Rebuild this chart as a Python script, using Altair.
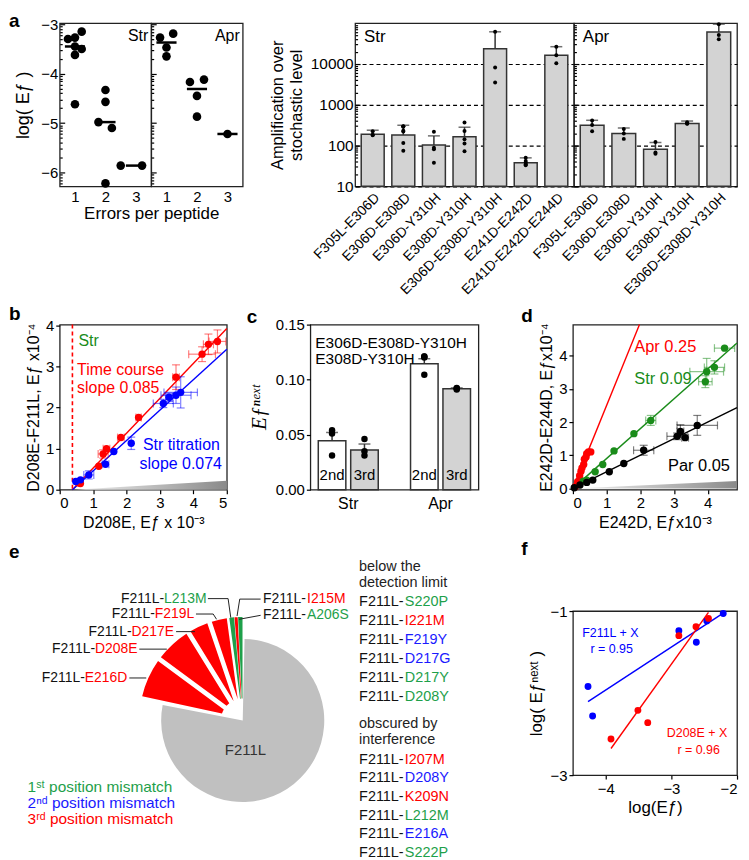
import altair as alt
import numpy as np
import pandas as pd

FONT = "Liberation Sans"
RED = "#ff0000"
BLUE = "#0000ff"
GREEN = "#1a8c1a"
GREEN_E = "#1ea04a"
BAR_FILL = "#d3d3d3"
EDGE = "#333333"

# ============================ DATA ============================
# --- panel a, left: log(Ef) per number of errors
a_str_err = [1, 1, 1, 1, 1, 1, 1, 2, 2, 2, 2, 2, 3, 3]
a_str_logef = [-3.30, -3.27, -3.15, -3.45, -3.50, -3.62, -4.62, -4.98, -4.33, -4.57, -5.10, -6.22, -5.86, -5.86]
a_str_jitter = [-0.23, 0.0, 0.22, 0.0, 0.22, 0.0, 0.0, -0.23, 0.0, 0.0, 0.21, 0.0, -0.5, 0.2]
a_apr_err = [1, 1, 1, 1, 2, 2, 2, 2, 3]
a_apr_logef = [-3.27, -3.19, -3.47, -3.65, -4.17, -4.12, -4.45, -4.87, -5.22]
a_apr_jitter = [-0.21, 0.22, 0.0, 0.0, -0.23, 0.23, 0.0, 0.0, 0.0]
a_left_ticks = [-3, -4, -5, -6]

# --- panel a, right: amplification over stochastic level
amp_str_cats = ["F305L-E306D", "E306D-E308D", "E306D-Y310H", "E308D-Y310H",
                "E306D-E308D-Y310H", "E241D-E242D", "E241D-E242D-E244D"]
amp_str_mean = [190, 183, 104, 164, 23800, 38, 16500]
amp_str_top = [238, 315, 173, 282, 61700, 50, 26600]
amp_str_pts = [[225, 185, 180], [300, 295, 290, 230, 220, 115, 75], [217, 89, 81, 38],
               [367, 229, 143, 112, 73], [61700, 8250, 3530], [50, 42, 38, 35, 33],
               [26600, 16500, 10400]]
amp_apr_cats = ["F305L-E306D", "E306D-E308D", "E306D-Y310H", "E308D-Y310H", "E306D-E308D-Y310H"]
amp_apr_mean = [315, 197, 81, 350, 60800]
amp_apr_top = [417, 270, 119, 400, 95000]
amp_apr_pts = [[410, 320, 224], [255, 197, 146], [122, 68, 63], [375, 350, 345], [95000, 51400, 40700]]
amp_ticks = [10, 100, 1000, 10000]

# --- panel b
b_time_x = [0.55, 0.62, 1.17, 1.30, 1.40, 1.83, 2.36, 3.48, 4.26, 4.45, 4.72]
b_time_y = [0.17, 0.15, 0.57, 0.87, 1.00, 1.27, 1.76, 2.74, 3.30, 3.54, 3.61]
b_time_xerr = [0.04, 0.04, 0.06, 0.15, 0.10, 0.10, 0.08, 0.10, 0.40, 0.15, 0.25]
b_time_yerr = [0.03, 0.03, 0.04, 0.10, 0.06, 0.04, 0.04, 0.30, 0.18, 0.25, 0.28]
b_titr_x = [0.48, 0.62, 0.87, 1.37, 1.62, 2.14, 3.10, 3.27, 3.48, 3.62]
b_titr_y = [0.20, 0.24, 0.36, 0.62, 0.93, 1.13, 2.10, 2.25, 2.30, 2.37]
b_titr_xerr = [0.04, 0.05, 0.15, 0.10, 0.06, 0.06, 0.30, 0.10, 0.45, 0.50]
b_titr_yerr = [0.03, 0.03, 0.10, 0.05, 0.05, 0.15, 0.10, 0.10, 0.20, 0.38]
b_slopes = [0.85, 0.74]          # plotted units (0.085, 0.074 in raw units)
b_stochastic = 0.38
b_wedge_x = [0.4, 5.0]
b_wedge_y = [0.0, 0.22]

# --- panel c
c_group = ["Str", "Str", "Apr", "Apr"]
c_gen = ["2nd", "3rd", "2nd", "3rd"]
c_mean = [0.0445, 0.036, 0.1145, 0.0918]
c_top = [0.052, 0.0415, 0.119, 0.0925]
c_pts = [[0.054, 0.051, 0.031], [0.046, 0.035, 0.031], [0.121, 0.120, 0.121, 0.1045], [0.0925, 0.092, 0.091]]

# --- panel d
d_apr_x = [0.07, 0.14, 0.20, 0.24, 0.27, 0.32, 0.34, 0.39, 0.41, 0.46, 0.53]
d_apr_y = [0.05, 0.20, 0.38, 0.52, 0.62, 0.72, 0.88, 0.95, 1.05, 1.10, 1.10]
d_apr_xerr = [0.02, 0.02, 0.02, 0.03, 0.03, 0.03, 0.03, 0.03, 0.05, 0.05, 0.05]
d_apr_yerr = [0.02, 0.03, 0.03, 0.03, 0.03, 0.05, 0.05, 0.05, 0.05, 0.05, 0.05]
d_str_x = [0.31, 0.41, 0.66, 0.885, 1.22, 1.81, 2.31, 3.93, 3.97, 4.20, 4.50]
d_str_y = [0.22, 0.25, 0.50, 0.72, 1.13, 1.65, 2.05, 3.22, 3.52, 3.65, 4.23]
d_str_xerr = [0.03, 0.03, 0.05, 0.05, 0.05, 0.05, 0.15, 0.20, 0.50, 0.30, 0.30]
d_str_yerr = [0.02, 0.02, 0.03, 0.05, 0.05, 0.05, 0.15, 0.18, 0.40, 0.20, 0.05]
d_par_x = [0.04, 0.21, 0.41, 0.59, 1.08, 1.51, 2.10, 3.09, 3.19, 3.33, 3.69]
d_par_y = [0.02, 0.10, 0.18, 0.25, 0.50, 0.75, 1.15, 1.57, 1.72, 1.53, 1.90]
d_par_xerr = [0.02, 0.02, 0.02, 0.05, 0.05, 0.05, 0.30, 0.30, 0.10, 0.10, 0.60]
d_par_yerr = [0.01, 0.01, 0.02, 0.03, 0.03, 0.03, 0.15, 0.10, 0.20, 0.05, 0.30]
d_slopes = [2.5, 0.9, 0.5]       # plotted units (0.25, 0.09, 0.05 raw)
d_wedge_x = [0.05, 4.87]
d_wedge_y = [0.0, 0.22]

# --- panel e
pie_labels = ["F211L", "F211L-E216D", "F211L-D208E", "F211L-D217E", "F211L-F219L",
              "F211L-L213M", "F211L-I215M", "F211L-A206S"]
pie_pct = [78.4, 6.7, 6.1, 3.6, 3.1, 0.8, 0.55, 0.75]
pie_pos = ["none", "3rd", "3rd", "3rd", "3rd", "1st", "3rd", "1st"]
below_mut = ["S220P", "I221M", "F219Y", "D217G", "D217Y", "D208Y"]
below_pos = ["1st", "3rd", "2nd", "2nd", "1st", "1st"]
obsc_mut = ["I207M", "D208Y", "K209N", "L212M", "E216A", "S222P"]
obsc_pos = ["3rd", "2nd", "3rd", "1st", "2nd", "1st"]

# --- panel f
f_blue_x = [-4.27, -4.20, -2.886, -2.62, -2.46, -2.21]
f_blue_y = [-1.92, -2.28, -1.24, -1.38, -1.12, -1.03]
f_red_x = [-3.92, -3.51, -3.36, -2.886, -2.625, -2.435]
f_red_y = [-2.56, -2.21, -2.36, -1.30, -1.19, -1.09]

POS_COLOR = {"none": "#c0c0c0", "1st": GREEN_E, "2nd": "#1a1aff", "3rd": RED}

# ============================ HELPERS ============================
ARIAL_W = {"0": 556, "1": 556, "2": 556, "3": 556, "4": 556, "5": 556, "6": 556, "7": 556, "8": 556,
           "9": 556, "-": 333, " ": 278, "F": 611, "L": 556, "E": 667, "D": 722, "M": 833, "I": 278,
           "S": 667, "A": 667, "P": 667, "Y": 667, "G": 778, "K": 667, "N": 722}


def tw(s, size):
    return sum(ARIAL_W.get(ch, 556) for ch in s) * size / 1000.0


def letter(ch, x, y, baseline="middle"):
    return alt.Chart(pd.DataFrame({"t": [ch]})).mark_text(
        fontSize=19, fontWeight="bold", align="left", baseline=baseline, color="black"
    ).encode(x=alt.value(x), y=alt.value(y), text="t:N")


def guard(top, bottom):
    # invisible rule fixing the vertical extent of a row (layout only)
    return alt.Chart(pd.DataFrame({"z": [0]})).mark_rule(color="transparent", strokeWidth=1).encode(
        x=alt.value(-20), y=alt.value(top), y2=alt.value(bottom))


def spacer(w, h):
    return alt.Chart(pd.DataFrame({"z": [0]})).mark_point(opacity=0).encode(
        x=alt.X("z:Q", axis=None), y=alt.Y("z:Q", axis=None)
    ).properties(width=w, height=h, view=alt.ViewBackground(stroke="transparent"))


# ============================ PANEL a (left) ============================
a_left_minor = [m + np.log10(k / 10) for m in a_left_ticks for k in range(2, 10)]
a_left_minor = [v for v in a_left_minor if v >= -6.28]


def a_left_panel(label, err, vals, jit, first):
    df = pd.DataFrame({"err": err, "logef": vals, "jit": jit})
    ysc = alt.Scale(domain=[-6.28, -2.98], nice=False, zero=False)
    xsc = alt.Scale(domain=[0.5, 3.5], nice=False, zero=False)
    xax = alt.Axis(values=[1, 2, 3], format="d", ticks=False, labelPadding=3, labelFontSize=15,
                   title="Errors per peptide" if first else "", titleX=92, titleFontSize=17,
                   titlePadding=1)
    yax = alt.Axis(values=a_left_ticks, format="d", orient="left", tickSize={"expr": "-5"},
                   labelPadding=7, labels=first, title="log( Eƒ )" if first else "",
                   titleFontSize=18, titlePadding=8)
    base = alt.Chart(df)
    pts = base.transform_calculate(xp="datum.err + datum.jit").mark_circle(
        size=75, color="black", opacity=1).encode(
        x=alt.X("xp:Q", scale=xsc, axis=xax), y=alt.Y("logef:Q", scale=ysc, axis=yax))
    med = base.transform_aggregate(med="median(logef)", groupby=["err"]).transform_calculate(
        x1="datum.err - 0.33", x2="datum.err + 0.33").mark_rule(color="black", strokeWidth=2.5).encode(
        x=alt.X("x1:Q", scale=xsc, axis=xax), x2="x2:Q", y=alt.Y("med:Q", scale=ysc, axis=yax))
    lab = alt.Chart(pd.DataFrame({"t": [label]})).mark_text(
        align="right", baseline="middle", fontSize=16, color="black").encode(
        x=alt.value(89), y=alt.value(13), text="t:N")
    inner = [pts, med, lab]
    if first:
        inner += [letter("a", -51, -11, baseline="top"), guard(-11, 290)]
    minor = alt.Chart(pd.DataFrame({"v": a_left_minor})).mark_point(opacity=0).encode(
        y=alt.Y("v:Q", scale=ysc, axis=alt.Axis(values=a_left_minor, labels=False, orient="left",
                                                 tickSize={"expr": "-2.5"}, title="")))
    return alt.layer(alt.layer(*inner), minor).resolve_axis(y="independent").properties(width=92, height=164)


aS = a_left_panel("Str", a_str_err, a_str_logef, a_str_jitter, True)
aA = a_left_panel("Apr", a_apr_err, a_apr_logef, a_apr_jitter, False)

# ============================ PANEL a (right) ============================
amp_minor = [k * 10 ** e for e in range(1, 5) for k in range(2, 10)]


def amp_panel(label, cats, means, tops, pts, width, first):
    bars_df = pd.DataFrame({"cat": cats, "mean": means, "top": tops})
    pts_df = pd.DataFrame([(c, v) for c, vs in zip(cats, pts) for v in vs], columns=["cat", "v"])
    xenc = dict(field="cat", type="nominal", sort=cats,
                scale=alt.Scale(paddingInner=0.25, paddingOuter=0.2),
                axis=alt.Axis(labelAngle=-45, ticks=False, title=None, labelFontSize=14, labelPadding=4))
    ysc = alt.Scale(type="log", domain=[10, 100000], nice=False)
    yax = alt.Axis(values=amp_ticks, format="d", grid=True, gridDash=[4, 3], gridColor="black",
                   gridWidth=1.2, tickSize={"expr": "-5"}, labelPadding=7, labels=first,
                   labelFontSize=15.5, orient="left",
                   title=["Amplification over", "stochastic level"] if first else "",
                   titleFontSize=16.5, titlePadding=6, titleLineHeight=19)
    bars = alt.Chart(bars_df).mark_bar(color=BAR_FILL, stroke=EDGE, strokeWidth=1.5).encode(
        x=alt.X(**xenc), y=alt.Y("mean:Q", scale=ysc, axis=yax), y2=alt.datum(10))
    err = alt.Chart(bars_df).mark_rule(color=EDGE, strokeWidth=1.5).encode(
        x=alt.X(**xenc), y=alt.Y("mean:Q", scale=ysc, axis=yax), y2="top:Q")
    cap = alt.Chart(bars_df).mark_tick(color=EDGE, thickness=1.5, size=12).encode(
        x=alt.X(**xenc), y=alt.Y("top:Q", scale=ysc, axis=yax))
    dots = alt.Chart(pts_df).mark_circle(size=16, color="black", opacity=1).encode(
        x=alt.X(**xenc), y=alt.Y("v:Q", scale=ysc, axis=yax))
    lab = alt.Chart(pd.DataFrame({"t": [label]})).mark_text(
        align="left", baseline="middle", fontSize=17, color="black").encode(
        x=alt.value(9), y=alt.value(14), text="t:N")
    minor = alt.Chart(pd.DataFrame({"v": amp_minor})).mark_point(opacity=0).encode(
        y=alt.Y("v:Q", scale=ysc, axis=alt.Axis(values=amp_minor, labels=False, orient="left",
                                                 grid=False, tickSize={"expr": "-2.5"}, title="")))
    return alt.layer(alt.layer(bars, err, cap, dots, lab), minor).resolve_axis(
        y="independent").properties(width=width, height=164)


bS = amp_panel("Str", amp_str_cats, amp_str_mean, amp_str_top, amp_str_pts, 220, True)
bA = amp_panel("Apr", amp_apr_cats, amp_apr_mean, amp_apr_top, amp_apr_pts, 164, False)


# ============================ scatter helper (b, d) ============================
def scatter_layers(df, cscale, xsc, ysc, xax, yax, psize):
    base = alt.Chart(df).transform_calculate(
        xlo="datum.x - datum.xe", xhi="datum.x + datum.xe",
        ylo="datum.y - datum.ye", yhi="datum.y + datum.ye")
    col = alt.Color("s:N", scale=cscale, legend=None)
    X = lambda f: alt.X(f, type="quantitative", scale=xsc, axis=xax)
    Y = lambda f: alt.Y(f, type="quantitative", scale=ysc, axis=yax)
    bx = base.transform_filter("datum.xe > 0.07")
    by = base.transform_filter("datum.ye > 0.07")
    layers = [
        bx.mark_rule(strokeWidth=1.2, opacity=0.5).encode(x=X("xlo"), x2="xhi:Q", y=Y("y"), color=col),
        by.mark_rule(strokeWidth=1.2, opacity=0.5).encode(x=X("x"), y=Y("ylo"), y2="yhi:Q", color=col),
        bx.mark_tick(orient="vertical", size=8, thickness=1.2, opacity=0.5).encode(x=X("xlo"), y=Y("y"), color=col),
        bx.mark_tick(orient="vertical", size=8, thickness=1.2, opacity=0.5).encode(x=X("xhi"), y=Y("y"), color=col),
        by.mark_tick(orient="horizontal", size=8, thickness=1.2, opacity=0.5).encode(x=X("x"), y=Y("ylo"), color=col),
        by.mark_tick(orient="horizontal", size=8, thickness=1.2, opacity=0.5).encode(x=X("x"), y=Y("yhi"), color=col),
        base.mark_circle(size=psize, opacity=1).encode(x=X("x"), y=Y("y"), color=col),
    ]
    return layers, X, Y


def text_layer(rows, color, size, align, X, Y):
    df = pd.DataFrame(rows, columns=["t", "x", "y"])
    return alt.Chart(df).mark_text(color=color, fontSize=size, align=align, baseline="middle").encode(
        x=X("x"), y=Y("y"), text="t:N")


wedge_fill = alt.Gradient(gradient="linear",
                          stops=[alt.GradientStop(color="#f2f2f2", offset=0),
                                 alt.GradientStop(color="#8a8a8a", offset=1)],
                          x1=0, x2=1, y1=1, y2=1)

# ============================ PANEL b ============================
b_df = pd.concat([
    pd.DataFrame({"s": "Time course", "x": b_time_x, "y": b_time_y, "xe": b_time_xerr, "ye": b_time_yerr}),
    pd.DataFrame({"s": "Str titration", "x": b_titr_x, "y": b_titr_y, "xe": b_titr_xerr, "ye": b_titr_yerr}),
])
b_cs = alt.Scale(domain=["Time course", "Str titration"], range=[RED, BLUE])
b_xsc = alt.Scale(domain=[0, 5], nice=False, zero=False)
b_ysc = alt.Scale(domain=[0, 4.02], nice=False, zero=False)
b_xax = alt.Axis(values=[0, 1, 2, 3, 4, 5], format="d", title="D208E, Eƒ x 10⁻³", titleFontSize=16)
b_yax = alt.Axis(values=[0, 1, 2, 3, 4], format="d", title="D208E-F211L, Eƒ x10⁻⁴", titleFontSize=16)
b_layers, bX, bY = scatter_layers(b_df, b_cs, b_xsc, b_ysc, b_xax, b_yax, 55)
b_line_df = pd.DataFrame({
    "s": ["Time course", "Time course", "Str titration", "Str titration"],
    "x": [b_stochastic, 5.0, b_stochastic, 5.0],
    "m": [b_slopes[0], b_slopes[0], b_slopes[1], b_slopes[1]],
})
b_lines = alt.Chart(b_line_df).transform_calculate(y=f"datum.m * (datum.x - {b_stochastic})").mark_line(
    strokeWidth=1.4).encode(x=bX("x"), y=bY("y"), color=alt.Color("s:N", scale=b_cs, legend=None),
                            detail="s:N")
b_wedge = alt.Chart(pd.DataFrame({"x": b_wedge_x, "y": b_wedge_y})).mark_area(color=wedge_fill).encode(
    x=bX("x"), y=bY("y"))
b_dash = alt.Chart(pd.DataFrame({"x": [b_stochastic]})).mark_rule(
    color=RED, strokeDash=[4, 3], strokeWidth=1.6).encode(x=bX("x"))
b_txt = [
    text_layer([("Str", 0.56, 3.61)], GREEN, 16, "left", bX, bY),
    text_layer([("Time course", 0.52, 2.91), ("slope 0.085", 0.52, 2.48)], RED, 16, "left", bX, bY),
    text_layer([("Str titration", 2.49, 1.09), ("slope 0.074", 2.39, 0.62)], BLUE, 16, "left", bX, bY),
]
pb = alt.layer(b_wedge, b_dash, b_lines, *b_layers, *b_txt, letter("b", -51, -11),
               guard(-23, 222)).properties(width=168, height=166)

# ============================ PANEL c ============================
c_df = pd.DataFrame({"group": c_group, "gen": c_gen, "mean": c_mean, "top": c_top})
c_pts_df = pd.DataFrame([(g, n, v) for g, n, vs in zip(c_group, c_gen, c_pts) for v in vs],
                        columns=["group", "gen", "v"])
c_x = alt.X("group:N", sort=["Str", "Apr"], scale=alt.Scale(paddingInner=0.35, paddingOuter=0.086),
            axis=alt.Axis(title=None, ticks=False, labelAngle=0, labelFontSize=16, labelPadding=6))
c_xo = alt.XOffset("gen:N", sort=["2nd", "3rd"], scale=alt.Scale(paddingInner=0.15))
c_ysc = alt.Scale(domain=[0, 0.15], nice=False, zero=True)
c_yax = alt.Axis(values=[0, 0.05, 0.10, 0.15], format=".2f", title="Eƒⁿᵉˣᵗ",
                 titleFont="Liberation Serif", titleFontStyle="italic", titleFontSize=21, titlePadding=6)
c_bars = alt.Chart(c_df).mark_bar(stroke=EDGE, strokeWidth=1.5).encode(
    x=c_x, xOffset=c_xo, y=alt.Y("mean:Q", scale=c_ysc, axis=c_yax),
    color=alt.Color("gen:N", scale=alt.Scale(domain=["2nd", "3rd"], range=["white", BAR_FILL]), legend=None))
c_err = alt.Chart(c_df).mark_rule(color=EDGE, strokeWidth=1.5).encode(
    x=c_x, xOffset=c_xo, y=alt.Y("mean:Q", scale=c_ysc, axis=c_yax), y2="top:Q")
c_cap = alt.Chart(c_df).mark_tick(color=EDGE, thickness=1.5, size=12).encode(
    x=c_x, xOffset=c_xo, y=alt.Y("top:Q", scale=c_ysc, axis=c_yax))
c_dots = alt.Chart(c_pts_df).mark_circle(size=42, color="black", opacity=1).encode(
    x=c_x, xOffset=c_xo, y=alt.Y("v:Q", scale=c_ysc, axis=c_yax))
c_gen_txt = alt.Chart(c_df).mark_text(fontSize=15, color="black", baseline="middle", dy=-15).encode(
    x=c_x, xOffset=c_xo, y=alt.datum(0), text="gen:N")
c_anno = alt.Chart(pd.DataFrame({"t": ["E306D-E308D-Y310H", "E308D-Y310H"], "y": [0.1334, 0.1185]})).mark_text(
    fontSize=15.5, color="black", align="left", baseline="middle").encode(
    x=alt.value(5), y=alt.Y("y:Q", scale=c_ysc, axis=c_yax), text="t:N")
pc = alt.layer(c_bars, c_err, c_cap, c_dots, c_gen_txt, c_anno, letter("c", -64, -8)).properties(
    width=169, height=166)

# ============================ PANEL d ============================
d_df = pd.concat([
    pd.DataFrame({"s": "Apr", "x": d_apr_x, "y": d_apr_y, "xe": d_apr_xerr, "ye": d_apr_yerr}),
    pd.DataFrame({"s": "Str", "x": d_str_x, "y": d_str_y, "xe": d_str_xerr, "ye": d_str_yerr}),
    pd.DataFrame({"s": "Par", "x": d_par_x, "y": d_par_y, "xe": d_par_xerr, "ye": d_par_yerr}),
])
d_cs = alt.Scale(domain=["Apr", "Str", "Par"], range=[RED, GREEN, "black"])
D_XMAX, D_YMAX = 4.87, 4.94
d_xsc = alt.Scale(domain=[0, D_XMAX], nice=False, zero=False)
d_ysc = alt.Scale(domain=[-0.04, D_YMAX], nice=False, zero=False)
d_xax = alt.Axis(values=[0, 1, 2, 3, 4], format="d", title="E242D, Eƒx10⁻³", titleFontSize=16)
d_yax = alt.Axis(values=[0, 1, 2, 3, 4], format="d", title="E242D-E244D, Eƒx10⁻⁴", titleFontSize=16)
d_layers, dX, dY = scatter_layers(d_df, d_cs, d_xsc, d_ysc, d_xax, d_yax, 55)
d_line_rows = []
for s, m in zip(["Apr", "Str", "Par"], d_slopes):
    d_line_rows += [(s, 0.0, m), (s, min(D_XMAX, D_YMAX / m), m)]
d_line_df = pd.DataFrame(d_line_rows, columns=["s", "x", "m"])
d_lines = alt.Chart(d_line_df).transform_calculate(y="datum.m * datum.x").mark_line(strokeWidth=1.4).encode(
    x=dX("x"), y=dY("y"), color=alt.Color("s:N", scale=d_cs, legend=None), detail="s:N")
d_wedge = alt.Chart(pd.DataFrame({"x": d_wedge_x, "y": d_wedge_y})).mark_area(color=wedge_fill).encode(
    x=dX("x"), y=dY("y"))
d_txt = [
    text_layer([("Apr 0.25", 1.82, 4.25)], RED, 16.5, "left", dX, dY),
    text_layer([("Str 0.09", 1.82, 3.30)], GREEN, 16.5, "left", dX, dY),
    text_layer([("Par 0.05", 2.82, 0.67)], "black", 16.5, "left", dX, dY),
]
pdd = alt.layer(d_wedge, d_lines, *d_layers, *d_txt, letter("d", -52, -9)).properties(width=165, height=166)

# ============================ PANEL e ============================
PIE_CX, PIE_CY = 184, 110
R_MAIN, R_OUT, R_IN = 82, 104, 22
pie_df = pd.DataFrame({"label": pie_labels, "pct": pie_pct, "pos": pie_pos, "order": range(len(pie_labels))})
pie_df["tiny"] = (pie_df["pct"] < 1).astype(int)
pie_df["ro"] = np.where(pie_df["pos"] == "none", R_MAIN, R_OUT)
pie_df["ri"] = np.where(pie_df["pos"] == "none", 0, R_IN)
pos_dom = ["none", "1st", "2nd", "3rd"]
pie_cs = alt.Scale(domain=pos_dom, range=[POS_COLOR[p] for p in pos_dom])
pie_base = alt.Chart(pie_df).transform_stack(stack="pct", as_=["t0", "t1"], groupby=[],
                                              sort=[alt.SortField("order", order="ascending")])
theta_sc = alt.Scale(domain=[0, 100])
arc_enc = dict(theta=alt.Theta("t0:Q", scale=theta_sc), theta2="t1:Q",
               radius=alt.Radius("ro:Q", scale=None), radius2="ri:Q",
               color=alt.Color("pos:N", scale=pie_cs, legend=None))
arcs_big = pie_base.transform_filter("datum.tiny == 0").mark_arc(
    x=PIE_CX, y=PIE_CY, padAngle=0.045).encode(**arc_enc)
arcs_tiny = pie_base.transform_filter("datum.tiny == 1").mark_arc(
    x=PIE_CX, y=PIE_CY, padAngle=0.004).encode(**arc_enc)

# leader lines (annotation layout, pixel coordinates within panel e)
leaders = {
    "E216D": [(70, 67.3), (87, 67.3)],
    "D208E": [(80, 38.3), (107.7, 38.3)],
    "D217E": [(117, 20.7), (136, 20.7)],
    "F219L": [(137, 3.0), (154.3, 3.0), (157.7, 8.3)],
    "L213M": [(149, -12.5), (169.3, -12.5), (172, 6.7)],
    "I215M": [(202, -12.0), (181, -12.0), (178.3, 5)],
    "A206S": [(202, 4.3), (180.3, 8.3)],
}
lead_df = pd.DataFrame([(k, i, x, y) for k, pts in leaders.items() for i, (x, y) in enumerate(pts)],
                       columns=["seg", "i", "px", "py"])
lead = alt.Chart(lead_df).mark_line(color="#222222", strokeWidth=1).encode(
    x=alt.X("px:Q", scale=None), y=alt.Y("py:Q", scale=None), detail="seg:N", order="i:Q")

FS = 14.5
FSC = 14
pre = "F211L-"
right_rows, left_rows = [], []
callout_right = [("F211L-E216D", 68, 67.3), ("F211L-D208E", 78.3, 38.3), ("F211L-D217E", 115, 20.7),
                 ("F211L-F219L", 135.3, 3.0), ("F211L-L213M", 147.7, -12.5)]
callout_left = [("F211L-I215M", 204.3, -12.0), ("F211L-A206S", 204.3, 4.3)]
pos_of = dict(zip(pie_labels, pie_pos))
for lab, xr, yy in callout_right:
    suf = lab[len(pre):]
    right_rows.append((suf, xr, yy, POS_COLOR[pos_of[lab]], FSC))
    right_rows.append((pre, xr - tw(suf, FSC), yy, "#111111", FSC))
for lab, xl, yy in callout_left:
    suf = lab[len(pre):]
    left_rows.append((pre, xl, yy, "#111111", FSC))
    left_rows.append((suf, xl + tw(pre, FSC), yy, POS_COLOR[pos_of[lab]], FSC))
LIST_X = 301
left_rows += [("below the", LIST_X, -44.3, "#222222", FS), ("detection limit", LIST_X, -27.7, "#222222", FS)]
for i, (m, p) in enumerate(zip(below_mut, below_pos)):
    yy = -9 + i * 19.1
    left_rows.append((pre, LIST_X, yy, "#111111", FS))
    left_rows.append((m, LIST_X + tw(pre, FS), yy, POS_COLOR[p], FS))
left_rows += [("obscured by", LIST_X, 114, "#222222", FS), ("interference", LIST_X, 130, "#222222", FS)]
for i, (m, p) in enumerate(zip(obsc_mut, obsc_pos)):
    yy = 149.3 + i * 18.8
    left_rows.append((pre, LIST_X, yy, "#111111", FS))
    left_rows.append((m, LIST_X + tw(pre, FS), yy, POS_COLOR[p], FS))
left_rows += [("1ˢᵗ position mismatch", -32.3, 176.7, GREEN_E, 15.5),
              ("2ⁿᵈ position mismatch", -32.3, 193.3, "#1a1aff", 15.5),
              ("3ʳᵈ position mismatch", -32.3, 209.5, RED, 15.5)]
cols = ["t", "px", "py", "col", "fs"]
txt_enc = dict(x=alt.X("px:Q", scale=None), y=alt.Y("py:Q", scale=None), text="t:N",
               color=alt.Color("col:N", scale=None, legend=None),
               size=alt.Size("fs:Q", scale=None, legend=None))
e_right = alt.Chart(pd.DataFrame(right_rows, columns=cols)).mark_text(align="right", baseline="middle").encode(**txt_enc)
e_left = alt.Chart(pd.DataFrame(left_rows, columns=cols)).mark_text(align="left", baseline="middle").encode(**txt_enc)
e_center = alt.Chart(pd.DataFrame([("F211L", 186.7, 139.3, "#333333", 15)], columns=cols)).mark_text(
    align="center", baseline="middle").encode(**txt_enc)
pe = alt.layer(arcs_big, arcs_tiny, lead, e_right, e_left, e_center, letter("e", -51, -59),
               guard(-76, 150)).resolve_scale(color="independent", size="independent").properties(
    width=516, height=165, view=alt.ViewBackground(stroke="transparent"))

# ============================ PANEL f ============================
f_df = pd.concat([
    pd.DataFrame({"s": "F211L + X", "x": f_blue_x, "y": f_blue_y}),
    pd.DataFrame({"s": "D208E + X", "x": f_red_x, "y": f_red_y}),
])
f_cs = alt.Scale(domain=["F211L + X", "D208E + X"], range=[BLUE, RED])
f_xsc = alt.Scale(domain=[-4.5, -2], nice=False, zero=False)
f_ysc = alt.Scale(domain=[-3, -1], nice=False, zero=False)
f_xax = alt.Axis(values=[-4, -3, -2], format="d", title="log(Eƒ)", titleFontSize=17)
f_yax = alt.Axis(values=[-3, -2, -1], format="d", title="log( Eƒⁿᵉˣᵗ )", titleFontSize=17)
fX = lambda f: alt.X(f, type="quantitative", scale=f_xsc, axis=f_xax)
fY = lambda f: alt.Y(f, type="quantitative", scale=f_ysc, axis=f_yax)
f_pts = alt.Chart(f_df).mark_circle(size=48, opacity=1).encode(
    x=fX("x"), y=fY("y"), color=alt.Color("s:N", scale=f_cs, legend=None))
f_fit = alt.Chart(f_df).transform_regression("x", "y", groupby=["s"]).mark_line(strokeWidth=1.4).encode(
    x=fX("x"), y=fY("y"), color=alt.Color("s:N", scale=f_cs, legend=None))
f_txt = [
    text_layer([("F211L + X", -3.93, -1.27), ("r = 0.95", -3.91, -1.46)], BLUE, 12.5, "center", fX, fY),
    text_layer([("D208E + X", -2.61, -2.49), ("r = 0.96", -2.585, -2.69)], RED, 12.5, "center", fX, fY),
]
pf = alt.layer(f_fit, f_pts, *f_txt, letter("f", -52, -62)).properties(width=165, height=165)

# ============================ LAYOUT ============================
RES = dict(color="independent", size="independent")
row1 = alt.hconcat(aS, aA, spacer(113, 164), bS, bA, spacing=0, bounds="flush").resolve_scale(**RES)
row2 = alt.hconcat(pb, spacer(84, 166), pc, spacer(95, 166), pdd, spacing=0, bounds="flush").resolve_scale(**RES)
row3 = alt.hconcat(pe, pf, spacing=0, bounds="flush").resolve_scale(**RES)

chart = alt.vconcat(row1, row2, row3, spacing=-14).resolve_scale(**RES).properties(
    padding=0
).configure_view(
    stroke="#222222", strokeWidth=1.3
).configure_axis(
    labelFont=FONT, titleFont=FONT, labelFontSize=15, titleFontSize=16, titleFontWeight="normal",
    labelColor="black", titleColor="black", tickColor="black", tickWidth=1.2, tickSize=4,
    domain=False, grid=False
).configure_text(font=FONT)

chart.save("out.html", embed_options={"renderer": "svg", "actions": False})
